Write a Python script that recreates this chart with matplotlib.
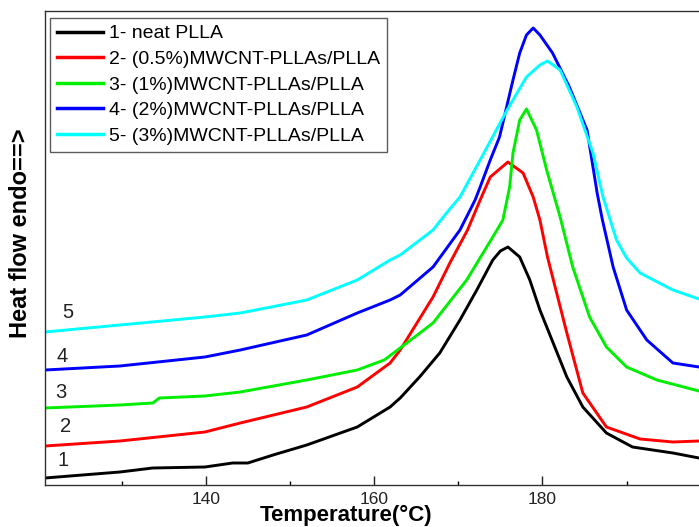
"""
plot.py
DSC heating curves of PLLA and MWCNT-PLLAs/PLLA blends
"""

import matplotlib
matplotlib.use('Agg')
import matplotlib.pyplot as plt
from matplotlib.ticker import MultipleLocator

plt.rcParams['font.family'] = ['Liberation Sans', 'DejaVu Sans']

# Data (temperature in C, heat flow in arbitrary units)
t1 = [120.9, 129.8, 133.7, 139.9, 143.2, 145.0, 148.0, 152.0, 158.0, 161.9, 163.1,
      165.4, 167.8, 170.2, 172.2, 174.1, 175.0, 175.9, 177.3, 178.5, 179.7, 182.9,
      184.8, 187.6, 190.7, 195.5, 198.6]
hf1 = [0.07, 0.13, 0.17, 0.18, 0.22, 0.22, 0.30, 0.40, 0.58, 0.78, 0.87,
       1.08, 1.32, 1.65, 1.95, 2.25, 2.34, 2.38, 2.28, 2.05, 1.75, 1.08,
       0.78, 0.52, 0.38, 0.32, 0.27]

t2 = [120.9, 129.8, 139.9, 144.1, 152.0, 158.0, 161.9, 163.1, 167.0, 169.0, 171.1,
      172.6, 173.8, 175.9, 177.7, 178.9, 179.7, 180.6, 182.9, 184.8, 187.6, 191.6,
      195.5, 198.6]
hf2 = [0.39, 0.44, 0.53, 0.62, 0.78, 0.98, 1.22, 1.35, 1.88, 2.22, 2.55,
       2.85, 3.08, 3.23, 3.12, 2.88, 2.65, 2.28, 1.52, 0.92, 0.58, 0.46,
       0.43, 0.44]

t3 = [120.9, 129.8, 133.7, 134.5, 139.9, 144.1, 152.0, 158.0, 161.2, 163.1, 167.0,
      171.0, 174.6, 175.3, 176.1, 176.5, 177.3, 178.1, 179.3, 180.5, 182.1, 183.6,
      185.6, 187.6, 190.0, 193.6, 198.6]
hf3 = [0.77, 0.80, 0.82, 0.87, 0.89, 0.93, 1.05, 1.15, 1.25, 1.37, 1.62,
       2.05, 2.55, 2.65, 2.98, 3.32, 3.65, 3.76, 3.55, 3.15, 2.68, 2.18,
       1.68, 1.38, 1.18, 1.05, 0.94]

t4 = [120.9, 129.8, 139.9, 144.1, 152.0, 158.0, 161.9, 163.1, 167.0, 170.2, 172.0,
      172.6, 173.8, 174.9, 176.5, 177.3, 178.1, 178.9, 179.7, 181.2, 183.2, 185.3,
      186.5, 187.1, 188.4, 190.0, 192.4, 195.5, 198.6]
hf4 = [1.15, 1.19, 1.28, 1.35, 1.50, 1.72, 1.85, 1.90, 2.18, 2.55, 2.85,
       2.98, 3.25, 3.48, 4.05, 4.32, 4.50, 4.57, 4.50, 4.32, 3.98, 3.55,
       2.92, 2.66, 2.18, 1.75, 1.45, 1.22, 1.18]

t5 = [120.9, 129.8, 139.9, 144.1, 152.0, 158.0, 161.9, 163.1, 167.0, 168.6, 170.2,
      172.6, 175.8, 178.1, 179.7, 180.6, 182.1, 184.1, 186.0, 187.2, 188.8, 190.0,
      191.6, 195.5, 198.6]
hf5 = [1.53, 1.60, 1.68, 1.72, 1.85, 2.05, 2.25, 2.30, 2.55, 2.72, 2.88,
       3.25, 3.75, 4.08, 4.20, 4.24, 4.15, 3.78, 3.32, 2.88, 2.45, 2.27,
       2.12, 1.95, 1.86]

labels = ['1- neat PLLA',
          '2- (0.5%)MWCNT-PLLAs/PLLA',
          '3- (1%)MWCNT-PLLAs/PLLA',
          '4- (2%)MWCNT-PLLAs/PLLA',
          '5- (3%)MWCNT-PLLAs/PLLA']
colors = ['#000000', '#ff0000', '#00ee00', '#0000ff', '#00ffff']
curve_no = ['1', '2', '3', '4', '5']
# where the curve numbers sit (temperature, heat flow)
num_pos = [(123.0, 0.25), (123.4, 0.58), (122.8, 0.93), (122.9, 1.29), (123.6, 1.72)]

fig = plt.figure(figsize=(6.99, 5.27), dpi=100)
ax = fig.add_axes([45/699, 42/527, 654/699, 474/527])

series = [(t1, hf1), (t2, hf2), (t3, hf3), (t4, hf4), (t5, hf5)]
for (t, hf), c, lab in zip(series, colors, labels):
    ax.plot(t, hf, color=c, lw=2.1, label=lab, solid_joinstyle='round')

for (x, y), s in zip(num_pos, curve_no):
    ax.text(x, y, s, fontsize=14.5, color='#222222', ha='center', va='center')

ax.set_xlim(120.9, 198.6)
ax.set_ylim(0, 4.74)
ax.xaxis.set_minor_locator(MultipleLocator(10))
ax.set_xticks([140, 160, 180])
ax.set_yticks([])
ax.tick_params(axis='x', which='major', direction='in', length=6.5, width=1,
               labelsize=12.5, colors='#222222', pad=5)
ax.tick_params(axis='x', which='minor', direction='in', length=3, width=1)
for side in ['left', 'bottom', 'top']:
    ax.spines[side].set_color('#333333')
    ax.spines[side].set_linewidth(1.0)
ax.spines['right'].set_visible(False)

ax.set_xlabel('Temperature(°C)', fontsize=16, fontweight='bold')
ax.xaxis.label.set_verticalalignment('baseline')
ax.xaxis.set_label_coords((346-45)/654, (485-521)/474)
ax.set_ylabel('Heat flow endo==>', fontsize=17, fontweight='bold')
ax.yaxis.set_label_coords(-0.02, (485-233)/474)

leg = ax.legend(loc='upper left', bbox_to_anchor=(5/654, 1-7/474), fontsize=14,
                frameon=True, fancybox=False, borderaxespad=0, handlelength=2.4,
                handletextpad=0.27, labelspacing=0.41, borderpad=0.35)
leg.get_frame().set_edgecolor('#333333')
leg.get_frame().set_linewidth(1.0)
for line in leg.get_lines():
    line.set_linewidth(2.5)

plt.savefig('out.png', dpi=100)
